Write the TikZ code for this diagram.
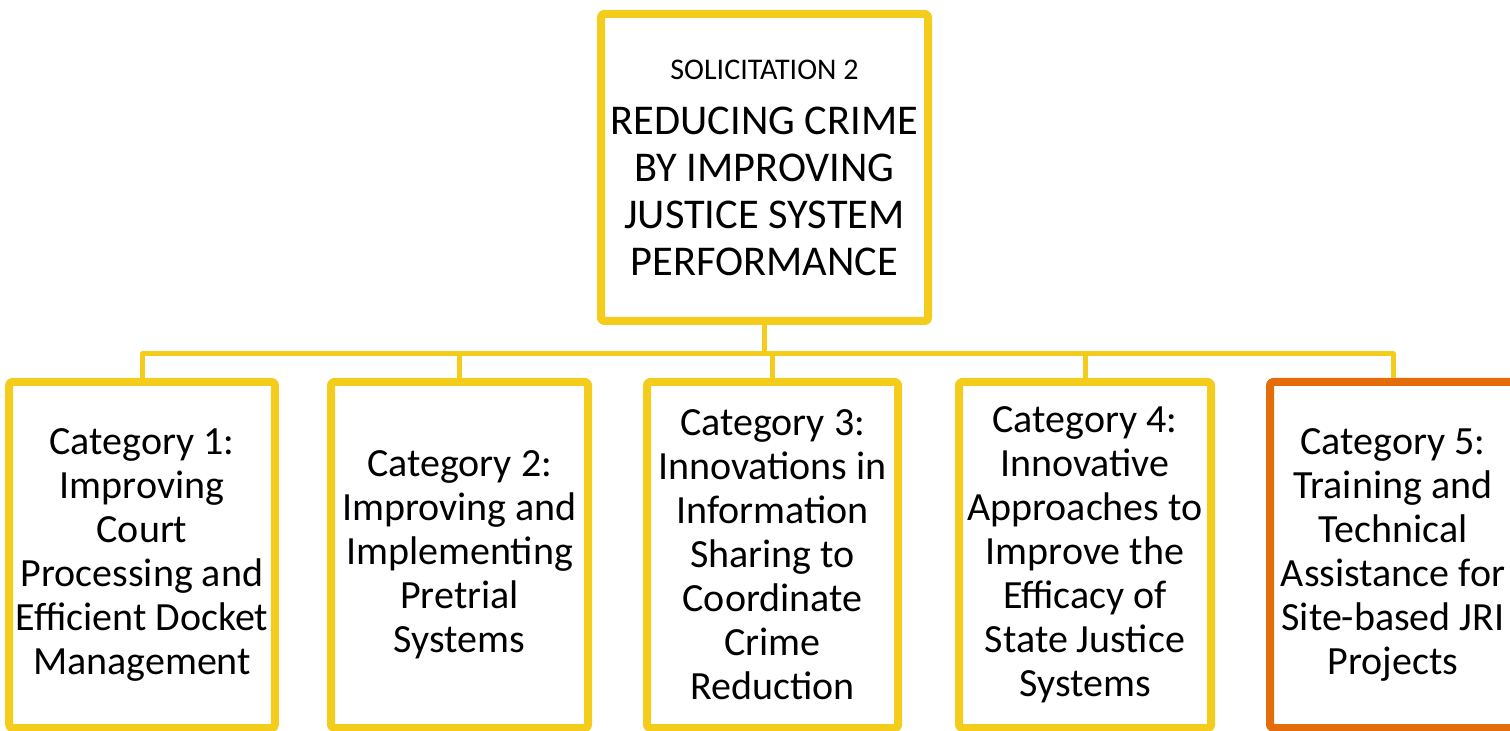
\documentclass[tikz,border=0pt]{standalone}
\usepackage{fontspec}
\setmainfont{Carlito}
\usetikzlibrary{shadows}

\definecolor{boxyellow}{HTML}{F4CD1C}
\definecolor{boxorange}{HTML}{E46C0A}

\begin{document}
\begin{tikzpicture}[
            x = 0.5pt, y = -0.5pt, % one unit is one pixel of the slide
            line join = round, % soft corners on the connectors
            auto
        ]

        \tikzstyle{box}=[
            draw = boxyellow,
            line width = 4pt,
            fill = white,
            rounded corners = 1.5pt,
            align = center,
            drop shadow = {opacity = 0.25, shadow xshift = 1.5pt, shadow yshift = -1.5pt},
            font = \fontsize{20}{22}\selectfont,
            minimum height = 173pt
        ]
        \tikzstyle{link}=[
            draw = boxyellow,
            line width = 2.5pt
        ]

        \useasboundingbox (0,0) rectangle (1510,731);

        \node[box] (sol) [minimum width = 163.5pt, minimum height = 153.5pt, font = \fontsize{21.2}{23.5}\selectfont] at (764.5,167.5)
            {{\fontsize{15}{14}\selectfont SOLICITATION 2}\\[4pt] REDUCING CRIME\\BY IMPROVING\\JUSTICE SYSTEM\\PERFORMANCE};

        \node[box] (cat1) [minimum width = 130pt] at (142,555) {Category 1:\\Improving\\Court\\Processing and\\Efficient Docket\\Management};
        \node[box] (cat2) [minimum width = 128.5pt] at (459.5,555) {Category 2:\\Improving and\\Implementing\\Pretrial\\Systems};
        \node[box] (cat3) [minimum width = 125.5pt] at (772.5,555) {Category 3:\\Innovations in\\Information\\Sharing to\\Coordinate\\Crime\\Reduction};
        \node[box] (cat4) [minimum width = 126pt] at (1085,555) {Category 4:\\Innovative\\Approaches to\\Improve the\\Efficacy of\\State Justice\\Systems};
        \node[box] (cat5) [minimum width = 123pt, draw = boxorange] at (1393,555) {Category 5:\\Training and\\Technical\\Assistance for\\Site-based JRI\\Projects};

        \draw[link] (sol.south) -- ++(0,29) -| (cat1.north);
        \draw[link] (sol.south) -- ++(0,29) -| (cat2.north);
        \draw[link] (sol.south) -- ++(0,29) -| (cat3.north);
        \draw[link] (sol.south) -- ++(0,29) -| (cat4.north);
        \draw[link] (sol.south) -- ++(0,29) -| (cat5.north);
    \end{tikzpicture}
\end{document}
